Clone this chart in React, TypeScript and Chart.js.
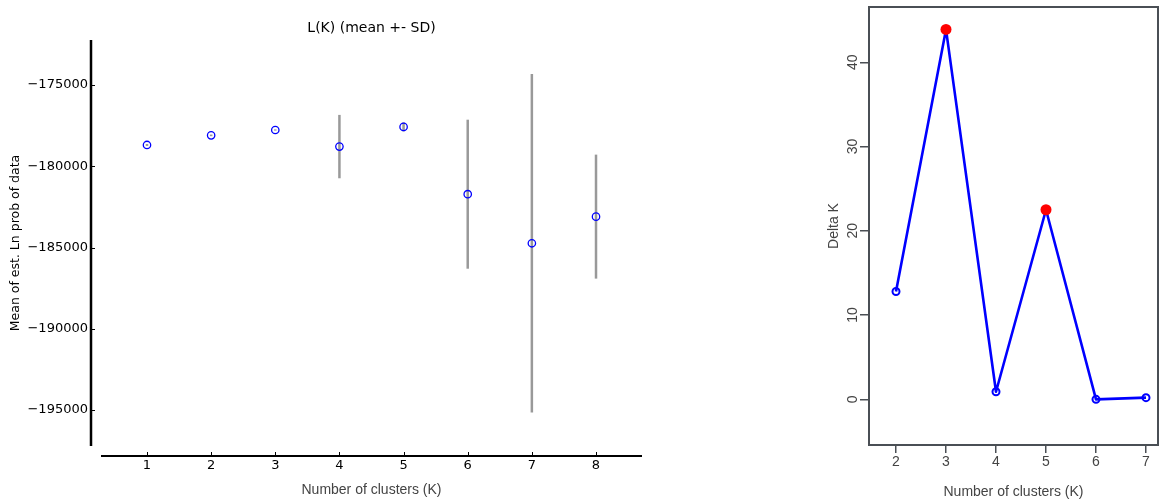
import React, { useEffect, useRef } from 'react';
import { Chart, registerables } from 'chart.js';

Chart.register(...registerables);

// ---- Left chart data: L(K) mean +- SD ----
const K_VALUES = [1, 2, 3, 4, 5, 6, 7, 8];
const LK_MEAN = [-178690, -178100, -177770, -178790, -177580, -181720, -184740, -183100];
const LK_SD = [60, 50, 40, 1950, 280, 4585, 10420, 3815];
const LK_Y_TICKS = [-195000, -190000, -185000, -180000, -175000];

// ---- Right chart data: Delta K ----
const DK_K = [2, 3, 4, 5, 6, 7];
const DK_VALUES = [12.8, 43.9, 0.9, 22.5, 0.0, 0.2];
const DK_PEAKS = [3, 5];
const DK_Y_TICKS = [0, 10, 20, 30, 40];

const MPL_FONT = 'DejaVu Sans';
const R_FONT = 'Liberation Sans';
const R_GRAY = '#4a4f55';
const R_TEXT = '#444444';

const fmtNeg = (v: number) => (v < 0 ? '\u2212' : '') + String(Math.abs(v));

const leftPlugin = {
  id: 'lkDecor',
  beforeDatasetsDraw(chart: any) {
    const { ctx, scales } = chart;
    const x = scales.x;
    const y = scales.y;
    ctx.save();
    ctx.strokeStyle = '#999999';
    ctx.lineWidth = 2.5;
    K_VALUES.forEach((k, i) => {
      const px = x.getPixelForValue(k);
      ctx.beginPath();
      ctx.moveTo(px, y.getPixelForValue(LK_MEAN[i] + LK_SD[i]));
      ctx.lineTo(px, y.getPixelForValue(LK_MEAN[i] - LK_SD[i]));
      ctx.stroke();
    });
    ctx.restore();
  },
  afterDraw(chart: any) {
    const { ctx, chartArea: ca, scales } = chart;
    const x = scales.x;
    const y = scales.y;
    ctx.save();
    ctx.strokeStyle = '#000000';
    ctx.lineWidth = 2.5;
    ctx.beginPath();
    ctx.moveTo(ca.left - 10, ca.top);
    ctx.lineTo(ca.left - 10, ca.bottom);
    ctx.stroke();
    ctx.lineWidth = 2;
    ctx.beginPath();
    ctx.moveTo(ca.left, ca.bottom + 10);
    ctx.lineTo(ca.right, ca.bottom + 10);
    ctx.stroke();
    ctx.lineWidth = 1;
    LK_Y_TICKS.forEach((v) => {
      const py = Math.round(y.getPixelForValue(v)) + 0.5;
      ctx.beginPath();
      ctx.moveTo(ca.left - 10, py);
      ctx.lineTo(ca.left - 6, py);
      ctx.stroke();
    });
    K_VALUES.forEach((k) => {
      const px = Math.round(x.getPixelForValue(k)) + 0.5;
      ctx.beginPath();
      ctx.moveTo(px, ca.bottom + 10);
      ctx.lineTo(px, ca.bottom + 6);
      ctx.stroke();
    });
    ctx.fillStyle = '#000000';
    ctx.font = `14px "${MPL_FONT}"`;
    ctx.textAlign = 'center';
    ctx.textBaseline = 'middle';
    ctx.fillText('L(K) (mean +- SD)', (ca.left + ca.right) / 2, 28.5);
    ctx.restore();
  },
};

const rightPlugin = {
  id: 'dkDecor',
  afterDraw(chart: any) {
    const { ctx, chartArea: ca, scales } = chart;
    const y = scales.y;
    ctx.save();
    ctx.strokeStyle = R_GRAY;
    ctx.lineWidth = 2;
    ctx.strokeRect(ca.left, ca.top, ca.right - ca.left, ca.bottom - ca.top);
    ctx.fillStyle = R_TEXT;
    ctx.font = `14px "${R_FONT}"`;
    ctx.textAlign = 'center';
    ctx.textBaseline = 'middle';
    DK_Y_TICKS.forEach((v) => {
      const py = y.getPixelForValue(v);
      ctx.save();
      ctx.translate(ca.left - 16, py);
      ctx.rotate(-Math.PI / 2);
      ctx.fillText(String(v), 0, 0);
      ctx.restore();
    });
    ctx.restore();
  },
};

export default function App() {
  const leftRef = useRef<HTMLCanvasElement>(null);
  const rightRef = useRef<HTMLCanvasElement>(null);

  useEffect(() => {
    document.body.style.margin = '0';
    document.body.style.background = '#ffffff';

    const left = new Chart(leftRef.current as HTMLCanvasElement, {
      type: 'scatter',
      data: {
        datasets: [
          {
            data: K_VALUES.map((k, i) => ({ x: k, y: LK_MEAN[i] })),
            pointRadius: 3.7,
            pointBorderColor: '#0000ff',
            pointBackgroundColor: 'rgba(0,0,0,0)',
            pointBorderWidth: 1.3,
            showLine: false,
          },
        ],
      },
      options: {
        responsive: false,
        animation: false,
        layout: { autoPadding: false, padding: { top: 40, right: 38, left: 0, bottom: 0 } },
        plugins: { legend: { display: false }, tooltip: { enabled: false }, title: { display: false } },
        scales: {
          x: {
            type: 'linear',
            min: 0.283,
            max: 8.717,
            afterBuildTicks: (s: any) => {
              s.ticks = K_VALUES.map((v) => ({ value: v }));
            },
            afterFit: (s: any) => {
              s.height = 58;
            },
            grid: { display: false, drawTicks: false },
            border: { display: false },
            ticks: {
              padding: 12,
              color: '#000000',
              font: { family: MPL_FONT, size: 13 },
              callback: (v: any) => String(v),
            },
            title: {
              display: true,
              text: 'Number of clusters (K)',
              color: R_TEXT,
              font: { family: R_FONT, size: 14 },
              padding: { top: 0, bottom: 5.6 },
            },
          },
          y: {
            type: 'linear',
            min: -197215,
            max: -172231,
            afterBuildTicks: (s: any) => {
              s.ticks = LK_Y_TICKS.map((v) => ({ value: v }));
            },
            afterFit: (s: any) => {
              s.width = 101;
            },
            grid: { display: false, drawTicks: false },
            border: { display: false },
            ticks: {
              padding: 13,
              color: '#000000',
              font: { family: MPL_FONT, size: 13 },
              callback: (v: any) => fmtNeg(Number(v)),
            },
            title: {
              display: true,
              text: 'Mean of est. Ln prob of data',
              color: '#000000',
              font: { family: MPL_FONT, size: 12.5 },
              padding: { top: 8.5, bottom: 0 },
            },
          },
        },
      },
      plugins: [leftPlugin],
    } as any);

    const points = DK_K.map((k, i) => ({ x: k, y: DK_VALUES[i] }));
    const right = new Chart(rightRef.current as HTMLCanvasElement, {
      type: 'line',
      data: {
        datasets: [
          {
            data: points.filter((p) => DK_PEAKS.includes(p.x)),
            showLine: false,
            pointRadius: 5.5,
            pointBackgroundColor: '#ff0000',
            pointBorderColor: '#ff0000',
            pointBorderWidth: 0,
            order: 0,
          },
          {
            data: points,
            borderColor: '#0000ff',
            borderWidth: 2.6,
            borderJoinStyle: 'round',
            pointRadius: 3.5,
            pointBorderWidth: 2,
            pointBorderColor: '#0000ff',
            pointBackgroundColor: 'rgba(0,0,0,0)',
            fill: false,
            tension: 0,
            order: 1,
          },
        ],
      },
      options: {
        responsive: false,
        animation: false,
        layout: { autoPadding: false, padding: { top: 7, right: 2, left: 0, bottom: 0 } },
        plugins: { legend: { display: false }, tooltip: { enabled: false }, title: { display: false } },
        scales: {
          x: {
            type: 'linear',
            min: 1.46,
            max: 7.24,
            afterBuildTicks: (s: any) => {
              s.ticks = DK_K.map((v) => ({ value: v }));
            },
            afterFit: (s: any) => {
              s.height = 59;
            },
            grid: { display: true, drawOnChartArea: false, drawTicks: true, tickLength: 8, color: R_GRAY, lineWidth: 1.5 },
            border: { display: false },
            ticks: {
              padding: 1,
              color: R_TEXT,
              font: { family: R_FONT, size: 14 },
              callback: (v: any) => String(v),
            },
            title: {
              display: true,
              text: 'Number of clusters (K)',
              color: R_TEXT,
              font: { family: R_FONT, size: 14 },
              padding: { top: 0, bottom: 3.6 },
            },
          },
          y: {
            type: 'linear',
            min: -5.42,
            max: 46.56,
            afterBuildTicks: (s: any) => {
              s.ticks = DK_Y_TICKS.map((v) => ({ value: v }));
            },
            afterFit: (s: any) => {
              s.width = 109;
            },
            grid: { display: true, drawOnChartArea: false, drawTicks: true, tickLength: 9, color: R_GRAY, lineWidth: 1.5 },
            border: { display: false },
            ticks: { display: false },
            title: {
              display: true,
              text: 'Delta K',
              color: R_TEXT,
              font: { family: R_FONT, size: 14 },
              padding: { top: 65.6, bottom: 0 },
            },
          },
        },
      },
      plugins: [rightPlugin],
    } as any);

    return () => {
      left.destroy();
      right.destroy();
    };
  }, []);

  return (
    <div style={{ position: 'relative', width: 1160, height: 504, background: '#ffffff', overflow: 'hidden' }}>
      <canvas ref={leftRef} width={680} height={504} style={{ position: 'absolute', left: 0, top: 0 }} />
      <canvas ref={rightRef} width={400} height={504} style={{ position: 'absolute', left: 760, top: 0 }} />
    </div>
  );
}
